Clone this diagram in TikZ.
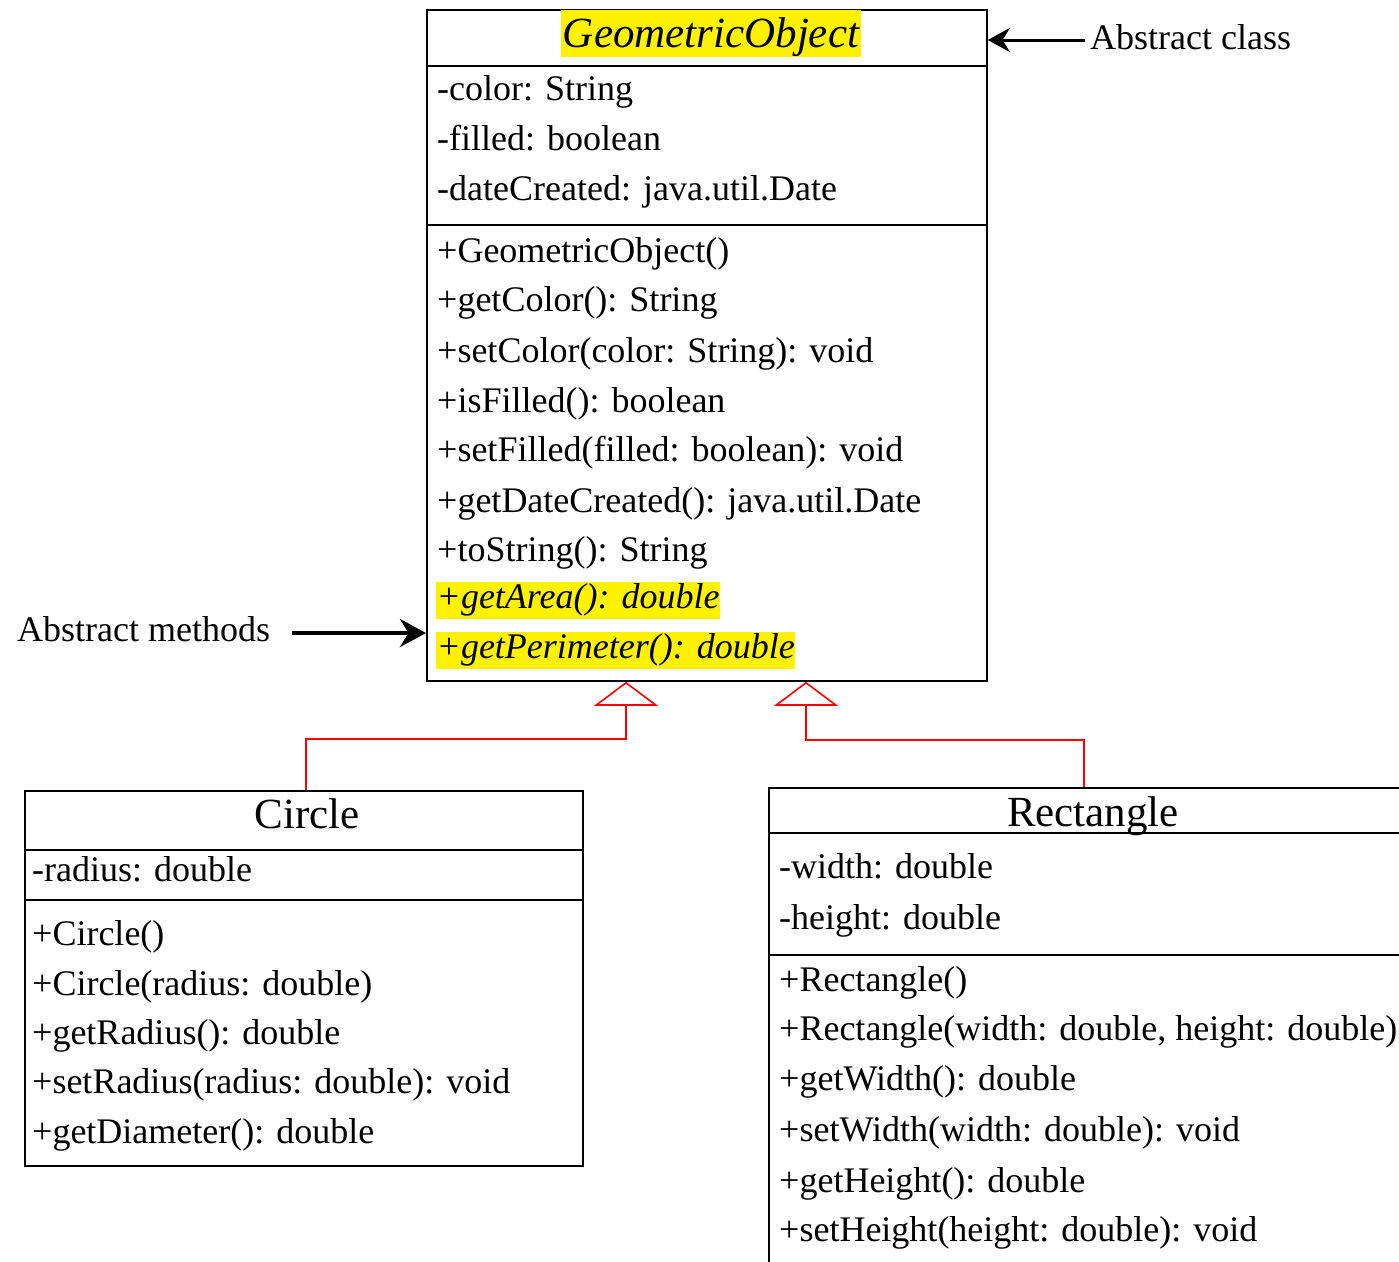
\documentclass[tikz,border=0pt]{standalone}
\usepackage{fontspec}
\setmainfont{Liberation Serif}
\usetikzlibrary{arrows.meta}
\begin{document}
\begin{tikzpicture}[x=1pt,y=-1pt,
  box/.style={draw=black, line width=1.8pt, inner sep=0pt, anchor=north west},
  row/.style={anchor=west, inner sep=0pt, yshift=-3pt, text height=26pt, text depth=8pt, font=\fontsize{36}{40}\selectfont},
  ttl/.style={anchor=center, inner sep=0pt, yshift=-3pt, text height=31pt, text depth=10pt, font=\fontsize{43}{48}\selectfont},
  hl/.style={anchor=west, inner xsep=0.5pt, inner ysep=0pt, text height=27pt, text depth=10pt, fill=yellow, font=\fontsize{36}{40}\selectfont\itshape},
  sep/.style={line width=1.6pt},
  inh/.style={draw=red, line width=1.6pt, -{Triangle[open, length=24pt, width=64pt, line width=1.6pt]}},
]
\useasboundingbox (0,0) rectangle (1399,1261);
\clip (0,0) rectangle (1399,1261);

% GeometricObject
\node[box, minimum width=560pt, minimum height=671pt] (geo) at (426,9) {};
\node[anchor=center, inner sep=0pt, fill=yellow, inner xsep=2pt, text height=37pt, text depth=10pt, font=\fontsize{43}{48}\selectfont] (geot) at (711,33.5) {\itshape GeometricObject};
\draw[sep] (426,66) -- (986,66);
\draw[sep] (426,225) -- (986,225);
\node[row] (g1) at (437,88) {-color: String};
\node[row] (g2) at (437,138) {-filled: boolean};
\node[row] (g3) at (437,188) {-dateCreated: java.util.Date};
\node[row] (g4) at (437,250) {+GeometricObject()};
\node[row] (g5) at (437,299) {+getColor(): String};
\node[row] (g6) at (437,350) {+setColor(color: String): void};
\node[row] (g7) at (437,400) {+isFilled(): boolean};
\node[row] (g8) at (437,449) {+setFilled(filled: boolean): void};
\node[row] (g9) at (437,500) {+getDateCreated(): java.util.Date};
\node[row] (g10) at (437,549) {+toString(): String};
\node[hl] (g11) at (436,600) {+getArea(): double};
\node[hl] (g12) at (436,650) {+getPerimeter(): double};

% annotations
\node[row] (lac) at (1090,37) {Abstract class};
\draw[line width=3pt, -{Stealth[length=22pt, width=24pt]}] ([xshift=-5pt]lac.west) -- (lac.west -| geo.east);
\node[row] (lam) at (17,629) {Abstract methods};
\draw[line width=4pt, -{Stealth[length=26pt, width=28pt]}] ([xshift=22pt,yshift=-1pt]lam.east) -- ([yshift=-1pt]lam.east -| geo.west);

% Circle
\node[box, minimum width=558pt, minimum height=375pt] (circ) at (24,790) {};
\node[ttl] (ct) at (307,815) {Circle};
\draw[sep] (24,850) -- (582,850);
\draw[sep] (24,900) -- (582,900);
\node[row] (c1) at (32,869) {-radius: double};
\node[row] (c2) at (32,933) {+Circle()};
\node[row] (c3) at (32,983) {+Circle(radius: double)};
\node[row] (c4) at (32,1032) {+getRadius(): double};
\node[row] (c5) at (32,1081) {+setRadius(radius: double): void};
\node[row] (c6) at (32,1131) {+getDiameter(): double};

% Rectangle
\node[box, minimum width=660pt, minimum height=500pt] (rect) at (768,787) {};
\node[ttl] (rt) at (1093,813) {Rectangle};
\draw[sep] (768,833) -- (1420,833);
\draw[sep] (768,955) -- (1420,955);
\node[row] (r1) at (779,866) {-width: double};
\node[row] (r2) at (779,917) {-height: double};
\node[row] (r3) at (779,979) {+Rectangle()};
\node[row] (r4) at (779,1028) {+Rectangle(width: double, height: double)};
\node[row] (r5) at (779,1078) {+getWidth(): double};
\node[row] (r6) at (779,1129) {+setWidth(width: double): void};
\node[row] (r7) at (779,1180) {+getHeight(): double};
\node[row] (r8) at (779,1229) {+setHeight(height: double): void};

% inheritance
\draw[inh] ([xshift=2pt]circ.north) -- ++(0,-51) -| (626,0 |- geo.south);
\coordinate (rtop) at (1084,787);
\draw[inh] (rtop) -- (1084,740) -| (806,0 |- geo.south);
\end{tikzpicture}
\end{document}
